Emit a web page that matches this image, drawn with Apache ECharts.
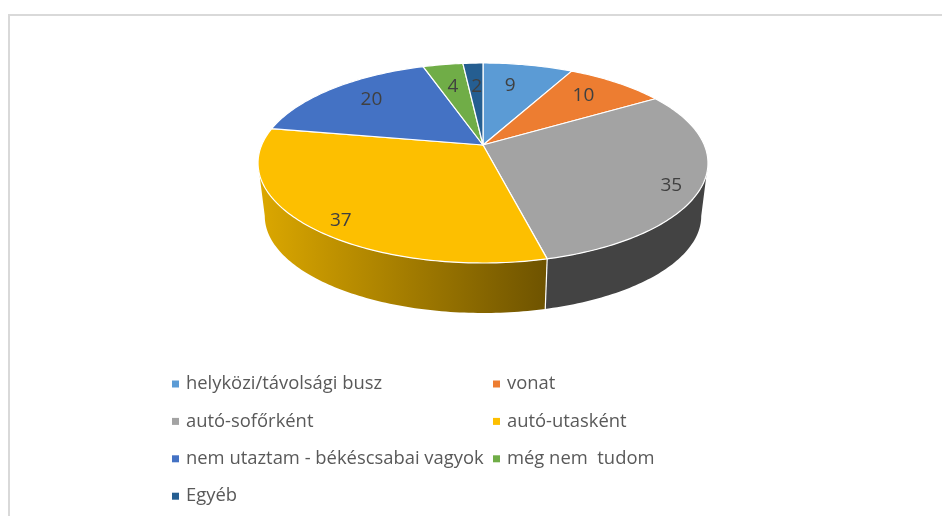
<!DOCTYPE html>
<html>
<head>
<meta charset="utf-8">
<style>
	html, body { margin: 0; padding: 0; background: #fff; }
	/* the source is a soft upscaled screenshot */
	#main { width: 942px; height: 516px; filter: blur(0.5px); }
</style>
</head>
<body>
<div id="main"></div>
<script src="https://cdn.jsdelivr.net/npm/echarts@6/dist/echarts.min.js"></script>
<script>
	const categories = ['helyközi/távolsági busz', 'vonat', 'autó-sofőrként', 'autó-utasként', 'nem utaztam - békéscsabai vagyok', 'még nem  tudom', 'Egyéb']
	const values = [9, 10, 35, 37, 20, 4, 2]
	const colors = ['#5B9BD5', '#ED7D31', '#A3A3A3', '#FDBF00', '#4472C4', '#70AD47', '#255E91']

	const total = values.reduce((a, b) => a + b, 0)
	// label shift from the mid point of the slice, excel puts them by hand
	const labelNudge = [[-10, 7], [-9, 2], [15, 10], [-7, 12], [11, 1], [3, 8], [2, 9]]

	// perspective of the disc
	const cx = 483, apexY = 145, kx = 221.3, ky = 96.76, persp = 0.18
	const depthScale = 0.97, lowerApexY = 198.5
	// clock angles where the rim is widest, the wall only shows between them
	const frontFrom = 100.4, frontTo = 259.6

	const project = (r, deg) => {
		const t = deg * Math.PI / 180
		const u = r * Math.sin(t), v = -r * Math.cos(t)
		const d = 1 - persp * v
		return [kx * u / d, ky * v / d]
	}
	const topPoint = (r, deg) => {
		const p = project(r, deg)
		return [cx + p[0], apexY + p[1]]
	}
	const lowerPoint = (deg) => {
		const p = project(1, deg)
		return [cx + p[0] * depthScale, lowerApexY + p[1] * depthScale]
	}
	const arcDegs = (from, to) => {
		const list = []
		for (let a = from; a < to; a += 1) list.push(a)
		list.push(to)
		return list
	}
	const wallFill = (index) => {
		if (index === 3) {
			return new echarts.graphic.LinearGradient(0, 0, 1, 0, [
				{ offset: 0, color: '#DCA800' },
				{ offset: 1, color: '#6E5300' }
			])
		}
		return '#434343'
	}

	const renderSlice = (index) => (params, api) => {
		const before = values.slice(0, index).reduce((a, b) => a + b, 0)
		const start = before / total * 360
		const end = (before + api.value(0)) / total * 360
		const mid = (start + end) / 2
		const children = []

		const wallFrom = Math.max(start, frontFrom), wallTo = Math.min(end, frontTo)
		if (wallFrom < wallTo) {
			const degs = arcDegs(wallFrom, wallTo)
			children.push({
				type: 'polygon',
				shape: { points: degs.map(a => topPoint(1, a)).concat(degs.slice().reverse().map(lowerPoint)) },
				style: { fill: wallFill(index) }
			})
			if (wallFrom === start) {
				children.push({
					type: 'line',
					shape: { x1: topPoint(1, start)[0], y1: topPoint(1, start)[1], x2: lowerPoint(start)[0], y2: lowerPoint(start)[1] },
					style: { stroke: '#fff', lineWidth: 1.2 }
				})
			}
		}

		children.push({
			type: 'polygon',
			shape: { points: [[cx, apexY]].concat(arcDegs(start, end).map(a => topPoint(1, a))) },
			style: { fill: api.visual('color'), stroke: '#fff', lineWidth: 1.2, lineJoin: 'round' }
		})

		const at = topPoint(0.8, mid)
		children.push({
			type: 'text',
			z2: 10,
			style: {
				text: String(api.value(0)),
				x: at[0] + labelNudge[index][0],
				y: at[1] + labelNudge[index][1],
				align: 'center',
				verticalAlign: 'middle',
				fill: '#404040',
				font: '19px "Open Sans"'
			}
		})
		return { type: 'group', children: children }
	}

	const legendBase = {
		orient: 'vertical',
		top: 372,
		icon: 'rect',
		itemWidth: 7,
		itemHeight: 7,
		itemGap: 13.4,
		selectedMode: false,
		padding: 0,
		textStyle: {
			color: '#595959',
			fontFamily: 'Open Sans',
			fontSize: 18.4,
			lineHeight: 23,
			padding: [1, 0, 0, 2]
		}
	}

	const myChart = echarts.init(document.getElementById('main'), null, { renderer: 'canvas' })
	myChart.setOption({
		animation: false,
		backgroundColor: '#fff',
		color: colors,
		legend: [
			Object.assign({}, legendBase, { left: 172, data: categories.filter((c, i) => i % 2 === 0) }),
			Object.assign({}, legendBase, { left: 493, data: categories.filter((c, i) => i % 2 === 1) })
		],
		graphic: [{
			type: 'rect',
			silent: true,
			shape: { x: 9, y: 15, width: 1000, height: 1000 },
			style: { fill: 'none', stroke: '#D9D9D9', lineWidth: 2 }
		}],
		series: categories.map((name, i) => ({
			type: 'custom',
			name: name,
			coordinateSystem: 'none',
			silent: true,
			renderItem: renderSlice(i),
			data: [values[i]]
		}))
	})
</script>
</body>
</html>
